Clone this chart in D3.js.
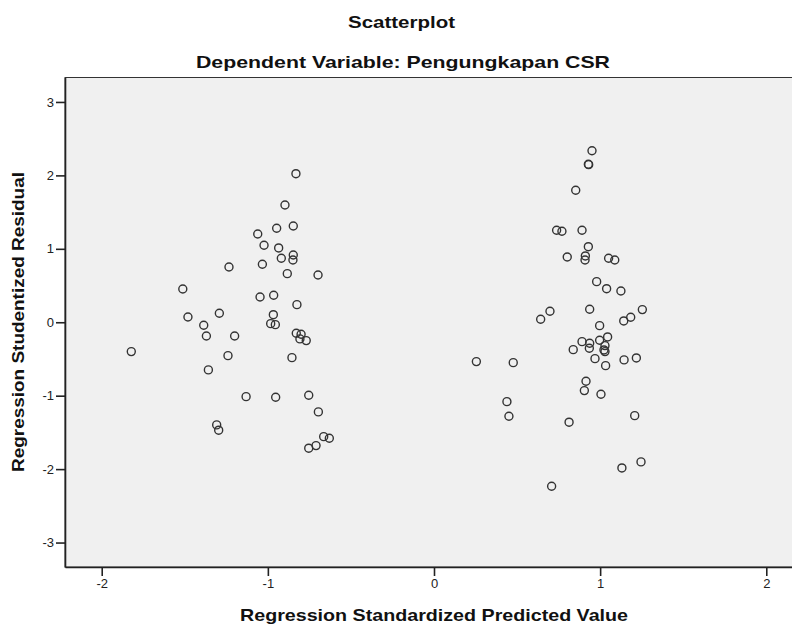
<!DOCTYPE html>
<html>
<head>
<meta charset="utf-8">
<script src="https://cdn.jsdelivr.net/npm/d3@7"></script>
<style>
  html, body { margin: 0; padding: 0; background: #fff; }
  svg { display: block; font-family: Arial, "Liberation Sans", sans-serif; }
</style>
</head>
<body>
<div id="chart"></div>
<script>
// Regression standardized predicted value (x) / studentized residual (y)
const predicted = [
  -1.822, -1.512, -1.481, -1.292, -1.386, -1.370, -1.200, -1.240, -1.358, -1.131,
  -1.308, -1.296, -1.234, -0.831, -0.897, -0.947, -0.847, -1.061, -1.023, -0.935,
  -0.847, -0.849, -0.919, -1.033, -0.883, -0.698, -1.047, -0.965, -0.825, -0.967,
  -0.983, -0.955, -0.829, -0.800, -0.807, -0.769, -0.855, -0.953, -0.754, -0.696,
  -0.664, -0.630, -0.710, -0.754,
  0.951, 0.929, 0.931, 0.853, 0.738, 0.770, 0.891, 0.929, 0.802, 0.911,
  0.909, 1.051, 1.088, 0.979, 1.039, 1.125, 0.937, 0.698, 0.642, 1.254,
  1.184, 1.142, 0.997, 1.045, 0.997, 0.891, 0.937, 0.935, 1.029, 1.023,
  1.029, 0.838, 0.969, 1.033, 1.144, 1.218, 0.255, 0.477, 0.915, 0.905,
  1.005, 0.439, 0.451, 0.813, 1.208, 1.131, 1.246, 0.708
];
const residual = [
  -0.400, 0.453, 0.072, 0.123, -0.041, -0.187, -0.187, -0.455, -0.649, -1.013,
  -1.398, -1.470, 0.753, 2.023, 1.597, 1.280, 1.311, 1.202, 1.048, 1.012,
  0.916, 0.848, 0.871, 0.790, 0.662, 0.644, 0.344, 0.368, 0.240, 0.103,
  -0.019, -0.033, -0.150, -0.163, -0.227, -0.250, -0.482, -1.021, -0.994, -1.221,
  -1.558, -1.579, -1.680, -1.715,
  2.336, 2.151, 2.146, 1.797, 1.253, 1.239, 1.253, 1.029, 0.889, 0.903,
  0.848, 0.871, 0.848, 0.553, 0.457, 0.426, 0.177, 0.150, 0.041, 0.172,
  0.068, 0.018, -0.046, -0.200, -0.245, -0.264, -0.286, -0.354, -0.319, -0.377,
  -0.400, -0.373, -0.496, -0.591, -0.513, -0.486, -0.536, -0.550, -0.803, -0.931,
  -0.980, -1.081, -1.280, -1.361, -1.272, -1.984, -1.902, -2.233
];
const xTicks = [-2, -1, 0, 1, 2];
const yTicks = [-3, -2, -1, 0, 1, 2, 3];

const TITLE = 'Scatterplot';
const SUBTITLE = 'Dependent Variable: Pengungkapan CSR';
const X_LABEL = 'Regression Standardized Predicted Value';
const Y_LABEL = 'Regression Studentized Residual';

const width = 792;
const height = 625;
const plot = { left: 65, right: 803, top: 77.5, bottom: 567 };

const svg = d3.select('#chart')
  .append('svg')
  .attr('width', width)
  .attr('height', height);

const x = d3.scaleLinear().domain([-2.221, 2.221]).range([plot.left, plot.right]);
const y = d3.scaleLinear().domain([-3.333, 3.333]).range([plot.bottom, plot.top]);

// plot frame
svg.append('rect')
  .attr('x', plot.left)
  .attr('y', plot.top)
  .attr('width', plot.right - plot.left)
  .attr('height', plot.bottom - plot.top)
  .attr('fill', '#f0f0f0')
  .attr('stroke', '#333')
  .attr('stroke-width', 1);

// plain hyphen minus, like the SPSS output
const fmt = d => String(d);

const xAxis = svg.append('g')
  .attr('transform', `translate(0,${plot.bottom})`)
  .call(d3.axisBottom(x).tickValues(xTicks).tickFormat(fmt)
    .tickSizeInner(9).tickSizeOuter(0).tickPadding(3));

const yAxis = svg.append('g')
  .attr('transform', `translate(${plot.left},0)`)
  .call(d3.axisLeft(y).tickValues(yTicks).tickFormat(fmt)
    .tickSizeInner(9).tickSizeOuter(0).tickPadding(2));

[xAxis, yAxis].forEach(ax => {
  ax.attr('font-size', null).attr('font-family', null);
  ax.select('.domain').attr('stroke', '#222').attr('stroke-width', 1.6);
  ax.selectAll('.tick line').attr('stroke', '#222').attr('stroke-width', 1.6);
  ax.selectAll('.tick text')
    .attr('fill', '#222')
    .style('font-size', '13px');
});

svg.append('g')
  .selectAll('circle')
  .data(predicted.map((p, i) => [p, residual[i]]))
  .enter()
  .append('circle')
  .attr('cx', d => x(d[0]))
  .attr('cy', d => y(d[1]))
  .attr('r', 4)
  .attr('fill', 'none')
  .attr('stroke', '#333')
  .attr('stroke-width', 1.4);

// titles and axis labels
const bold = sel => sel
  .attr('font-weight', 'bold')
  .attr('fill', '#111')
  .attr('text-anchor', 'middle')
  .attr('lengthAdjust', 'spacingAndGlyphs');

svg.append('text').call(bold)
  .attr('x', 401.5).attr('y', 28)
  .attr('font-size', 17)
  .attr('textLength', 107)
  .text(TITLE);

svg.append('text').call(bold)
  .attr('x', 403).attr('y', 68)
  .attr('font-size', 17)
  .attr('textLength', 414)
  .text(SUBTITLE);

svg.append('text').call(bold)
  .attr('x', 434).attr('y', 621)
  .attr('font-size', 17)
  .attr('textLength', 388)
  .text(X_LABEL);

svg.append('text').call(bold)
  .attr('transform', 'translate(24,322) rotate(-90)')
  .attr('font-size', 16)
  .attr('textLength', 300)
  .text(Y_LABEL);
</script>
</body>
</html>
